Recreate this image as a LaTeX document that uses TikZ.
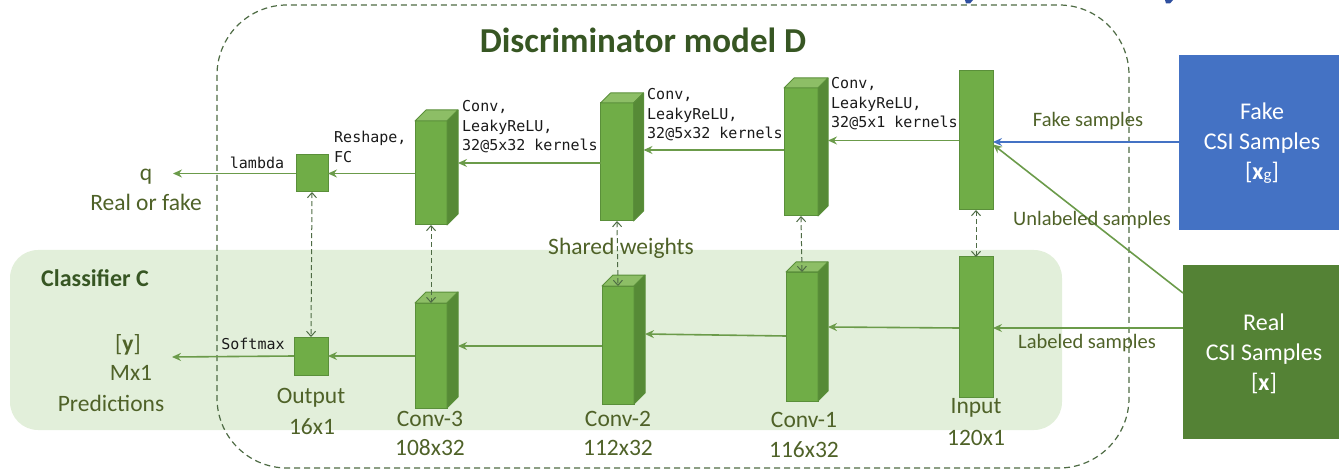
\documentclass[tikz,border=0pt]{standalone}
\usepackage{fontspec}
\setmainfont{Carlito}
\newfontfamily\monof{DejaVu Sans Mono}
\usetikzlibrary{arrows.meta}
\definecolor{blockfill}{HTML}{70AD47}
\definecolor{blockline}{HTML}{5A8F3A}
\definecolor{blockside}{HTML}{568A36}
\definecolor{blocktop}{HTML}{8DBE66}
\definecolor{arrowgreen}{HTML}{6B9B4A}
\definecolor{dashgreen}{HTML}{4E6B44}
\definecolor{clsbg}{HTML}{E2EFDA}
\definecolor{fakeblue}{HTML}{4472C4}
\definecolor{darkblue}{HTML}{2F4F9F}
\definecolor{realgreen}{HTML}{548235}
\definecolor{txtol}{HTML}{4F6228}
\definecolor{titlegreen}{HTML}{375623}
\definecolor{monotxt}{HTML}{1A1A1A}
\tikzset{
  face/.style={draw=blockline, fill=blockfill, line width=1pt, inner sep=0pt, outer sep=0pt},
  topf/.style={draw=blockline, fill=blocktop, line width=1pt, line join=round},
  sidef/.style={draw=blockline, fill=blockside, line width=1pt, line join=round},
  arr/.style={draw=arrowgreen, line width=1.6pt, -{Stealth[length=9pt,width=8pt,inset=3pt]}},
  farr/.style={arr, draw=fakeblue},
  shared/.style={draw=dashgreen, line width=1pt, dash pattern=on 5pt off 3pt,
    {Straight Barb[length=5pt,width=9pt]}-{Straight Barb[length=5pt,width=9pt]}},
  lbl/.style={text=txtol, font=\fontsize{23.5}{27}\selectfont, inner sep=0pt},
  smalllbl/.style={text=txtol, font=\fontsize{20.5}{24}\selectfont, inner sep=0pt},
  mono/.style={text=monotxt, font=\monof\fontsize{15}{19.5}\selectfont, align=left, inner sep=0pt},
  boxtxt/.style={text=white, font=\fontsize{24}{30}\selectfont, align=center, inner sep=0pt},
}
\newcommand\mkcube[6]{%
  \node[face, minimum width=#4pt, minimum height=#5pt] (#1) at (#2,#3) {};
  \draw[topf] (#1.north west) -- ++(#6,-#6) -- ([shift={(#6,-#6)}]#1.north east) -- (#1.north east) -- cycle;
  \draw[sidef] (#1.north east) -- ++(#6,-#6) -- ([shift={(#6,-#6)}]#1.south east) -- (#1.south east) -- cycle;
  \coordinate (#1-side) at ([xshift=#6pt]#1.east);
}
\begin{document}
\begin{tikzpicture}[x=1pt,y=-1pt]
\useasboundingbox (0,0) rectangle (1339,473);
% blue fragments at top
\fill[darkblue] (965,0) -- (973,0) -- (970,3.5) -- (966,3.5) -- cycle;
\fill[darkblue] (1165,0) -- (1173,0) -- (1170,3.5) -- (1166,3.5) -- cycle;
% classifier background
\fill[clsbg, rounded corners=28pt] (10,250) rectangle (1062,430);
% outer dashed box
\draw[dashgreen, line width=1.2pt, dash pattern=on 6pt off 4pt, rounded corners=70pt] (217,5) rectangle (1129,468);
% side boxes
\node[fill=fakeblue, inner sep=0pt, minimum width=162pt, minimum height=175pt, anchor=north west] (fake) at (1179,55) {};
\node[fill=realgreen, inner sep=0pt, minimum width=157pt, minimum height=174pt, anchor=north west] (real) at (1183,265) {};
\node[boxtxt] (faketxt) at (1262,143) {Fake\\CSI Samples\\{[}\textbf{x}\raisebox{-1pt}{\fontsize{17}{17}\selectfont g}{]}};
\node[boxtxt] (realtxt) at (1264,354) {Real\\CSI Samples\\{[}\textbf{x}{]}};
% top row blocks
\node[face, minimum width=34pt, minimum height=139pt] (in1) at (976,140.5) {};
\mkcube{c1t}{801}{152}{34}{128}{10}
\mkcube{c2t}{617}{162}{33}{118}{10}
\mkcube{c3t}{431}{173}{32}{104}{11}
\node[face, minimum width=32pt, minimum height=37pt] (outt) at (312,173.5) {};
% bottom row blocks
\node[face, minimum width=34pt, minimum height=140pt] (in2) at (976,327) {};
\mkcube{c1b}{802}{336.5}{32}{129}{10}
\mkcube{c2b}{618}{345}{32}{118}{11}
\mkcube{c3b}{431}{355.5}{32}{105}{11}
\node[face, minimum width=34pt, minimum height=38pt] (outb) at (311,356) {};
% free ends
\coordinate (qtip) at (173,173.5);
\coordinate (ytip) at (172,357);
% top arrows
\draw[farr] (fake.west |- 0,142) -- (in1.east |- 0,142);
\draw[arr] (real.north west) ++(0,28) -- ([yshift=-4pt]in1.east);
\draw[arr] (in1.west) -- (in1.west -| c1t-side);
\draw[arr] (c1t.west |- 0,150) -- (c2t-side |- 0,150);
\draw[arr] (c2t.west |- 0,163) -- (c3t-side |- 0,163);
\draw[arr] (c3t.west |- outt.east) -- (outt.east);
\draw[arr] (outt.west) -- (qtip);
% bottom arrows
\draw[arr] (real.west |- 0,328) -- (in2.east |- 0,328);
\draw[arr] (in2.west |- 0,328) -- (c1b-side |- 0,327);
\draw[arr] (c1b.west |- 0,336) -- (c2b-side |- 0,334);
\draw[arr] (c2b.west |- 0,346) -- (c3b-side |- 0,346);
\draw[arr] (c3b.west |- outb.east) -- (outb.east);
\draw[arr] (outb.west) -- (ytip);
% shared weights
\draw[shared] (outt.south) -- (outb.north);
\draw[shared] (c3t.south) -- (c3b.north);
\draw[shared] (c2t.south) -- (c2b.north);
\draw[shared] (c1t.south) -- (c1b.north);
\draw[shared] (in1.south) -- (in2.north);
% texts
\node[text=titlegreen, font=\bfseries\fontsize{35}{38}\selectfont, inner sep=0pt] (title) at (643,40) {Discriminator model D};
\node[text=titlegreen, font=\bfseries\fontsize{24}{28}\selectfont, inner sep=0pt] (clsC) at (95,278) {Classifier C};
\node[lbl] (sw) at (621,248) {Shared weights};
\node[smalllbl] (fs) at (1088,121) {Fake samples};
\node[smalllbl] (us) at (1092,220) {Unlabeled samples};
\node[smalllbl] (ls) at (1087,343) {Labeled samples};
\node[mono, anchor=west] (l3) at (462,127) {Conv,\\LeakyReLU,\\32@5x32 kernels};
\node[mono, anchor=west] (l2) at (647,115) {Conv,\\LeakyReLU,\\32@5x32 kernels};
\node[mono, anchor=west] (l1) at (831,104) {Conv,\\LeakyReLU,\\32@5x1 kernels};
\node[mono, anchor=west] (lr) at (334,147) {Reshape,\\FC};
\node[mono] (lam) at (257,163) {lambda};
\node[mono] (sm) at (253,344) {Softmax};
\node[lbl] (q) at (146,177) {q};
\node[lbl] (rf) at (146,202) {Real or fake};
\node[lbl] (yv) at (128,345) {[\textbf{y}]};
\node[lbl] (mx) at (131,373) {Mx1};
\node[lbl] (pr) at (111,403) {Predictions};
\node[lbl] (o1) at (311,398) {Output};
\node[lbl] (o2) at (312,427) {16x1};
\node[lbl] (k3a) at (430,419) {Conv-3};
\node[lbl] (k3b) at (430,448) {108x32};
\node[lbl] (k2a) at (618,419) {Conv-2};
\node[lbl] (k2b) at (618,448) {112x32};
\node[lbl] (k1a) at (804,420) {Conv-1};
\node[lbl] (k1b) at (804,450) {116x32};
\node[lbl] (ia) at (976,408) {Input};
\node[lbl] (ib) at (976,438) {120x1};
\end{tikzpicture}
\end{document}
